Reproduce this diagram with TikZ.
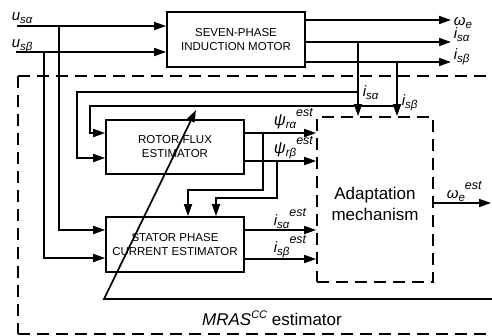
\documentclass[tikz,border=0pt]{standalone}
\usepackage{fontspec}
\setmainfont{Liberation Sans}
\usetikzlibrary{arrows.meta,calc}
\newcommand{\Vs}[3][15]{{\fontsize{#1}{#1}\selectfont\itshape #2}\raisebox{-3pt}{\fontsize{11.5}{11.5}\selectfont\itshape #3}}
\newcommand{\Vse}[3][15]{\Vs[#1]{#2}{#3}\raisebox{9pt}{\fontsize{12.5}{12.5}\selectfont\itshape est}}
\begin{document}
\begin{tikzpicture}[x=1pt,y=-1pt,line width=1.7pt,
  arr/.style={-{Triangle[length=12pt,width=8pt]}},
  box/.style={draw,rectangle,inner sep=0pt,align=center,minimum width=138pt,font=\fontsize{11.5}{14}\selectfont},
  dsh/.style={dash pattern=on 12pt off 7pt},
  lbl/.style={inner sep=0pt,anchor=base west}]
\path[use as bounding box] (0,0) rectangle (492,335);
% outer dashed estimator frame
\draw[dsh] (18,76) -- (505,76);
\draw[dsh] (18,76) -- (18,334);
\draw[dsh] (18,334) -- (505,334);
% blocks
\node[box,minimum height=55pt] (motor) at (236,39.5) {SEVEN-PHASE\\INDUCTION MOTOR};
\node[box,minimum height=54pt] (rotor) at (175,147) {ROTOR FLUX\\ESTIMATOR};
\node[box,minimum height=55pt] (stator) at (175,244.5) {STATOR PHASE\\CURRENT ESTIMATOR};
\node[draw,dsh,rectangle,inner sep=0pt,minimum width=116pt,minimum height=165pt] (adapt) at (375,199.5) {};
\node[inner sep=0pt,align=center,font=\fontsize{17}{21}\selectfont] (adapttxt) at (375,204) {Adaptation\\mechanism};
% inputs
\coordinate (usa) at (17,26);
\coordinate (usb) at (16,52);
\draw[arr] (usa) -- (usa -| motor.west);
\draw[arr] (usb) -- (usb -| motor.west);
\coordinate (ja) at (59,26);
\coordinate (jb) at (44,52);
\coordinate (sa) at ($(stator.west)+(0,-14.5)$);
\coordinate (sb) at ($(stator.west)+(0,13.5)$);
\draw[arr] (ja) |- (sa);
\draw[arr] (jb) |- (sb);
% motor outputs
\coordinate (we) at (451,20);
\coordinate (isa) at (451,42);
\coordinate (isb) at (451,62);
\draw[arr] (motor.east |- we) -- (we);
\draw[arr] (motor.east |- isa) -- (isa);
\draw[arr] (motor.east |- isb) -- (isb);
% measured current taps
\coordinate (ta) at (358,42);
\coordinate (tb) at (397,62);
\draw[arr] (ta) -- (ta |- adapt.north);
\draw[arr] (tb) -- (tb |- adapt.north);
\coordinate (fa) at (358,92);
\coordinate (fb) at (397,106);
\coordinate (ra1) at ($(rotor.west)+(0,11)$);
\coordinate (ra2) at ($(rotor.west)+(0,-14)$);
\draw[arr] (fa) -| ([xshift=-28pt]ra1) -- (ra1);
\draw[arr] (fb) -| ([xshift=-15pt]ra2) -- (ra2);
% rotor flux outputs
\coordinate (roa) at ($(rotor.east)+(0,-14)$);
\coordinate (rob) at ($(rotor.east)+(0,14)$);
\draw[arr] (roa) -- (roa -| adapt.west);
\draw[arr] (rob) -- (rob -| adapt.west);
\coordinate (ba) at (263,133);
\coordinate (ka) at (188,190);
\coordinate (bb) at (277,161);
\coordinate (kb) at (216,198);
\draw[arr] (ba) |- (ka) -- (ka |- stator.north);
\draw[arr] (bb) |- (kb) -- (kb |- stator.north);
% stator current outputs
\coordinate (soa) at ($(stator.east)+(0,-14.5)$);
\coordinate (sob) at ($(stator.east)+(0,14.5)$);
\draw[arr] (soa) -- (soa -| adapt.west);
\draw[arr] (sob) -- (sob -| adapt.west);
% estimated speed output
\coordinate (wo) at (491,203);
\draw[arr] (wo -| adapt.east) -- (wo);
% adaptation feedback
\coordinate (fbR) at (495,299);
\coordinate (fbL) at (104,299);
\coordinate (fbT) at (196,110);
\draw[arr] (fbR) -- (fbL) -- (fbT);
% labels
\node[lbl] (lusa) at (11,20) {\Vs{u}{sα}};
\node[lbl] (lusb) at (11,47) {\Vs{u}{sβ}};
\node[lbl] (lwe) at (453,25) {\Vs{ω}{e}};
\node[lbl] (lisa) at (453,38.5) {\Vs{i}{sα}};
\node[lbl] (lisb) at (453,59) {\Vs{i}{sβ}};
\node[lbl] (lisa2) at (362,96) {\Vs{i}{sα}};
\node[lbl] (lisb2) at (401,105) {\Vs{i}{sβ}};
\node[lbl] (lpra) at (273,125) {\Vse[16.5]{ψ}{rα}};
\node[lbl] (lprb) at (273,153) {\Vse[16.5]{ψ}{rβ}};
\node[lbl] (liea) at (273,225) {\Vse{i}{sα}};
\node[lbl] (lieb) at (273,252) {\Vse{i}{sβ}};
\node[lbl] (lwee) at (446,198) {\Vse{ω}{e}};
\node[inner sep=0pt,font=\fontsize{17}{17}\selectfont] (mras) at (272,318) {\textit{MRAS}\raisebox{7pt}{\fontsize{11}{11}\selectfont\itshape CC} estimator};
\end{tikzpicture}
\end{document}
